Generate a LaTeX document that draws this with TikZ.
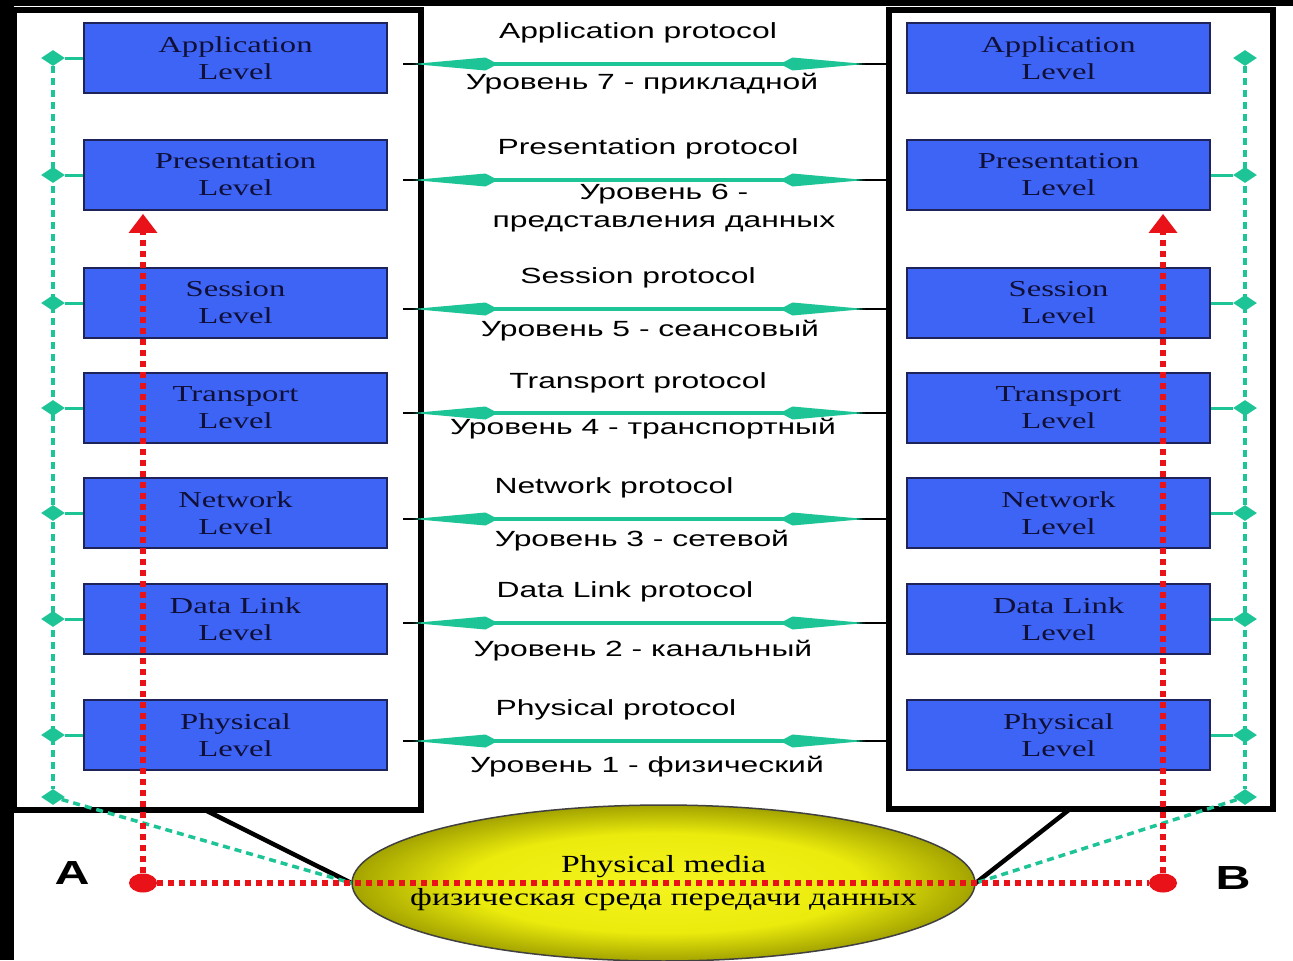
\documentclass[tikz,border=0pt]{standalone}
\usepackage{fontspec}
\usetikzlibrary{arrows.meta,shapes.geometric}
\newfontfamily\protofont[FakeStretch=1.45]{Liberation Sans}
\newfontfamily\levelfont[FakeStretch=1.43]{Liberation Serif}
\newfontfamily\mediafont[FakeStretch=1.37]{Liberation Serif}
\definecolor{levelblue}{RGB}{62,100,245}
\definecolor{levelline}{RGB}{30,35,90}
\definecolor{leveltext}{RGB}{15,15,55}
\definecolor{mint}{RGB}{28,196,150}
\definecolor{dotred}{RGB}{232,18,24}
\pgfdeclareradialshading{mediafill}{\pgfpointorigin}{rgb(0bp)=(0.96,0.96,0.12); rgb(16bp)=(0.92,0.92,0.05); rgb(25bp)=(0.64,0.64,0); rgb(50bp)=(0.64,0.64,0)}

\begin{document}
\begin{tikzpicture}[x=0.02cm, y=-0.02cm,
	level/.style={draw=levelline, line width=0.04cm, fill=levelblue, minimum width=6.06cm, minimum height=1.4cm, inner sep=0pt, align=center, text=leveltext, font=\levelfont\fontsize{13}{15.4}\selectfont},
	tap/.style={diamond, fill=mint, inner sep=0pt, minimum width=0.48cm, minimum height=0.32cm},
	tapline/.style={mint, line width=0.06cm},
	bus/.style={mint, line width=0.07cm, dash pattern=on 0.14cm off 0.1cm},
	stackframe/.style={line width=0.12cm, fill=white},
	proto/.style={mint, line width=0.08cm, {Kite[length=1.7cm, width=0.26cm, inset=0.25cm, line width=0pt]}-{Kite[length=1.7cm, width=0.26cm, inset=0.25cm, line width=0pt]}},
	protext/.style={inner sep=0pt, align=center, font=\protofont\fontsize{12.5}{16}\selectfont},
	media/.style={ellipse, shade, shading=mediafill, draw=black!75, line width=0.03cm, minimum width=12.46cm, minimum height=3.12cm, inner sep=0pt},
	mediatext/.style={inner sep=0pt, font=\mediafont\fontsize{14}{15}\selectfont},
	link/.style={line width=0.09cm},
	reddots/.style={dotred, line width=0.13cm, dash pattern=on 0.12cm off 0.1cm},
	dot/.style={ellipse, fill=dotred, inner sep=0pt, minimum width=0.56cm, minimum height=0.38cm},
	endlabel/.style={font=\protofont\bfseries\fontsize{19}{20}\selectfont}]
	\useasboundingbox (0,0) rectangle (1293,960);
	\fill[white] (0,0) rectangle (1293,960);

	% dark edges of the slide
	\fill[black] (0,0) rectangle (14,960);
	\fill[black] (0,0) rectangle (1293,6);

	% the two stacks
	\draw[stackframe] (14,10) rectangle (421,810);
	\draw[stackframe] (889,10) rectangle (1273,809);

	\foreach \i/\y/\name in {1/58/Application, 2/175/Presentation, 3/303/Session, 4/408/Transport, 5/513/Network, 6/619/Data Link, 7/735/Physical} {
		% level boxes
		\node[level] (L\i) at (235.5,\y) {\name\\Level};
		\node[level] (R\i) at (1058.5,\y) {\name\\Level};

		% taps on the side buses
		\node[tap] (tl\i) at (53,\y) {};
		\node[tap] (tr\i) at (1245,\y) {};
	}
	\node[tap] (tl8) at (53,797) {};
	\node[tap] (tr8) at (1245,797) {};
	\foreach \i in {1,...,7}
		\draw[tapline] (tl\i) -- (L\i);
	\foreach \i in {2,...,7}
		\draw[tapline] (R\i) -- (tr\i);
	\draw[bus] (tl1) -- (tl8);
	\draw[bus] (tr1) -- (tr8);

	% peer protocols
	\foreach \i/\y/\xa/\ya/\ta/\xb/\yb/\tb in {
		1/64/638/33/Application protocol/642/84/Уровень 7 - прикладной,
		2/180/648/149/Presentation protocol/664/208/{Уровень 6 -\\представления данных},
		3/309/638/278/Session protocol/650/331/Уровень 5 - сеансовый,
		4/413/638/383/Transport protocol/643/429/Уровень 4 - транспортный,
		5/519/614/488/Network protocol/642/541/Уровень 3 - сетевой,
		6/623/625/592/Data Link protocol/643/651/Уровень 2 - канальный,
		7/741/616/710/Physical protocol/647/767/Уровень 1 - физический} {
		\coordinate (pl\i) at (403,\y);
		\coordinate (pr\i) at (889,\y);
		\draw[line width=0.03cm] (pl\i) -- (pr\i);
		\draw[proto] ([xshift=0.2cm]pl\i) -- ([xshift=-0.48cm]pr\i);
		\node[protext] (pt\i) at (\xa,\ya) {\ta};
		\node[protext] (pb\i) at (\xb,\yb) {\tb};
	}

	% medium
	\node[media] (media) at (663.5,883) {};
	\node[mediatext] (mediaen) at (663.5,867) {Physical media};
	\node[mediatext] (mediaru) at (663.5,900) {физическая среда передачи данных};
	\coordinate (fl) at (205,810);
	\coordinate (fr) at (1070,809);
	\draw[link] (fl) -- (media.west);
	\draw[link] (fr) -- (media.east);
	\draw[bus] (tl8) -- (media.west);
	\draw[bus] (tr8) -- (media.east);

	% path of the data from A to B
	\node[dot] (dotA) at (143,883) {};
	\node[dot] (dotB) at (1163,883) {};
	\draw[reddots] (dotA) -- (dotB);
	\draw[reddots, -{Triangle[length=0.38cm, width=0.58cm, line width=0pt]}, shorten >=0.06cm] (dotA) -- (dotA |- L2.south);
	\draw[reddots, -{Triangle[length=0.38cm, width=0.58cm, line width=0pt]}, shorten >=0.06cm] (dotB) -- (dotB |- R2.south);

	\node[endlabel] (labA) at (72,873) {A};
	\node[endlabel] (labB) at (1233,878) {B};
\end{tikzpicture}
\end{document}
